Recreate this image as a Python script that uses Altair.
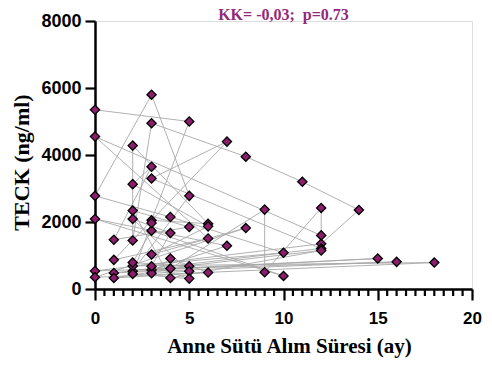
import altair as alt
import pandas as pd

months = [0, 5, 3, 6, 2, 2, 3, 8, 11, 14, 12, 0, 16, 1, 12, 3, 7, 1, 6, 0, 12, 12, 9, 9, 4, 15, 2, 5, 3, 0,
          4, 10, 2, 18, 0, 8, 3, 6, 2, 3, 1, 5, 2, 4, 12, 3, 7, 0, 10, 3, 2, 5, 1, 6, 4, 3, 5, 2, 4, 3,
          5, 2, 3]
teck = [5350, 5000, 2050, 1950, 4280, 1450, 4950, 3950, 3200, 2360, 1350, 540, 810, 480, 1210, 3300, 4400,
        870, 1510, 4550, 1600, 2420, 500, 2370, 610, 910, 530, 2780, 5800, 2780, 2150, 1080, 690, 790, 350,
        1820, 1030, 1870, 3130, 3650, 1470, 1850, 2340, 330, 1150, 570, 1290, 2090, 390, 1740, 790, 680, 330,
        490, 910, 470, 530, 2090, 1670, 680, 310, 450, 1970]

x_major = [0, 5, 10, 15, 20]
x_minor = [i * 0.5 for i in range(41) if (i * 0.5) % 5 != 0]
y_ticks = [0, 2000, 4000, 6000, 8000]

df = pd.DataFrame({"ay": months, "teck": teck, "idx": list(range(len(months)))})
minor_df = pd.DataFrame({"ay": x_minor})

purple = "#8c1d6d"

x_axis = alt.Axis(
    title="Anne Sütü Alım Süresi (ay)",
    values=x_major,
    tickCount=len(x_major),
    format="d",
    labelOverlap=False,
    labelFlush=False,
    grid=False,
    domainColor="black",
    domainWidth=2.5,
    tickColor="black",
    tickWidth=2.2,
    tickSize=11,
    labelFont="Liberation Sans",
    labelFontWeight="bold",
    labelFontSize=17,
    labelColor="black",
    labelPadding=10,
    titleFont="Liberation Serif",
    titleFontWeight="bold",
    titleFontSize=21,
    titleColor="black",
    titlePadding=9,
    titleX=194,
)
y_axis = alt.Axis(
    title="TECK (ng/ml)",
    values=y_ticks,
    format="d",
    grid=False,
    domainColor="black",
    domainWidth=2.5,
    tickColor="black",
    tickWidth=2.2,
    tickSize=10,
    labelFont="Liberation Sans",
    labelFontWeight="bold",
    labelFontSize=18,
    labelColor="black",
    labelPadding=4,
    titleFont="Liberation Serif",
    titleFontWeight="bold",
    titleFontSize=22,
    titleColor="black",
    titlePadding=7,
    titleY=141,
)

H = 268

base = alt.Chart(df)
lines = base.mark_line(color="#a8a8a8", strokeWidth=0.9).encode(
    x=alt.X("ay:Q", scale=alt.Scale(domain=[0, 20], nice=False, zero=False), axis=x_axis),
    y=alt.Y("teck:Q", scale=alt.Scale(domain=[0, 8000], nice=False), axis=y_axis),
    order="idx:Q",
)
points = base.mark_point(
    shape="diamond", size=85, fill=purple, fillOpacity=1, stroke="black", strokeWidth=1.3, opacity=1
).encode(x="ay:Q", y="teck:Q")

minor_ticks = alt.Chart(minor_df).mark_rule(color="black", strokeWidth=2.2).encode(
    x="ay:Q",
    y=alt.value(H),
    y2=alt.value(H + 7),
)

chart = (
    alt.layer(lines, points, minor_ticks)
    .properties(
        width=377,
        height=H,
        padding={"left": 95, "top": 21, "right": 20, "bottom": 80},
        autosize=alt.AutoSizeParams(type="none"),
        title=alt.TitleParams(
            "KK= -0,03;\u00a0 p=0.73",
            font="Liberation Serif",
            fontSize=16,
            fontWeight="bold",
            color="#932a78",
            anchor="middle",
            offset=2,
            dy=13,
        ),
    )
    .configure_view(fill="#f0f0f0", strokeWidth=0)
    .configure(background="white")
)

chart.save("out.html", embed_options={"renderer": "svg", "actions": False})
